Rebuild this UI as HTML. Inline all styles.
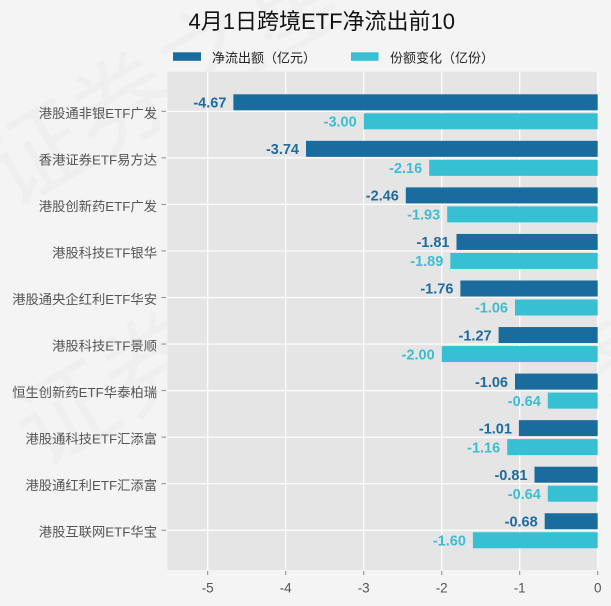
<!DOCTYPE html>
<html>
<head>
<meta charset="utf-8">
<style>
html,body{margin:0;padding:0;background:#f4f4f4;}
svg{display:block;}
text{font-family:"Liberation Sans","Noto Sans CJK SC",sans-serif;}
</style>
</head>
<body>
<svg width="611" height="606" viewBox="0 0 611 606" xmlns="http://www.w3.org/2000/svg">
<rect x="0" y="0" width="611" height="606" fill="#f4f4f4"/>
<!-- faint watermark -->
<g font-size="100" fill="#000000" fill-opacity="0.02" font-family="Noto Sans CJK SC, sans-serif">
<text x="10" y="210" transform="rotate(-30 10 210)">证券之星</text>
<text x="40" y="470" transform="rotate(-30 40 470)">证券之星</text>
<text x="480" y="470" transform="rotate(-30 480 470)">证券</text>
</g>
<!-- panel -->
<rect x="167.5" y="71.7" width="430.2" height="498.3" fill="#e5e5e5"/>
<g stroke="#ffffff" stroke-width="1.2">
<line x1="207.7" y1="71.7" x2="207.7" y2="570"/>
<line x1="285.7" y1="71.7" x2="285.7" y2="570"/>
<line x1="363.7" y1="71.7" x2="363.7" y2="570"/>
<line x1="441.7" y1="71.7" x2="441.7" y2="570"/>
<line x1="519.7" y1="71.7" x2="519.7" y2="570"/>
<line x1="597.7" y1="71.7" x2="597.7" y2="570"/>
<line x1="167.5" y1="111.3" x2="597.7" y2="111.3"/>
<line x1="167.5" y1="157.85" x2="597.7" y2="157.85"/>
<line x1="167.5" y1="204.4" x2="597.7" y2="204.4"/>
<line x1="167.5" y1="250.95" x2="597.7" y2="250.95"/>
<line x1="167.5" y1="297.5" x2="597.7" y2="297.5"/>
<line x1="167.5" y1="344.05" x2="597.7" y2="344.05"/>
<line x1="167.5" y1="390.6" x2="597.7" y2="390.6"/>
<line x1="167.5" y1="437.15" x2="597.7" y2="437.15"/>
<line x1="167.5" y1="483.7" x2="597.7" y2="483.7"/>
<line x1="167.5" y1="530.25" x2="597.7" y2="530.25"/>
</g>

<g fill="#196c9d">
<rect x="233.4" y="94.3" width="364.3" height="16"/>
<rect x="306.0" y="140.85" width="291.7" height="16"/>
<rect x="405.8" y="187.4" width="191.9" height="16"/>
<rect x="456.5" y="233.95" width="141.2" height="16"/>
<rect x="460.4" y="280.5" width="137.3" height="16"/>
<rect x="498.6" y="327.05" width="99.1" height="16"/>
<rect x="515.0" y="373.6" width="82.7" height="16"/>
<rect x="518.9" y="420.15" width="78.8" height="16"/>
<rect x="534.5" y="466.7" width="63.2" height="16"/>
<rect x="544.7" y="513.25" width="53.0" height="16"/>
</g>
<g fill="#37bfd3">
<rect x="363.7" y="113.3" width="234.0" height="16"/>
<rect x="429.2" y="159.85" width="168.5" height="16"/>
<rect x="447.2" y="206.4" width="150.5" height="16"/>
<rect x="450.3" y="252.95" width="147.4" height="16"/>
<rect x="515.0" y="299.5" width="82.7" height="16"/>
<rect x="441.7" y="346.05" width="156.0" height="16"/>
<rect x="547.8" y="392.6" width="49.9" height="16"/>
<rect x="507.2" y="439.15" width="90.5" height="16"/>
<rect x="547.8" y="485.7" width="49.9" height="16"/>
<rect x="472.9" y="532.25" width="124.8" height="16"/>
</g>

<g font-size="14.5" font-weight="bold" text-anchor="end" fill="#1f6b9b">
<text x="226.4" y="107.5">-4.67</text>
<text x="299.0" y="154.05">-3.74</text>
<text x="398.8" y="200.6">-2.46</text>
<text x="449.5" y="247.15">-1.81</text>
<text x="453.4" y="293.7">-1.76</text>
<text x="491.6" y="340.25">-1.27</text>
<text x="508.0" y="386.8">-1.06</text>
<text x="511.9" y="433.35">-1.01</text>
<text x="527.5" y="479.9">-0.81</text>
<text x="537.7" y="526.45">-0.68</text>
</g>
<g font-size="14.5" font-weight="bold" text-anchor="end" fill="#3dbdd2">
<text x="356.7" y="126.5">-3.00</text>
<text x="422.2" y="173.05">-2.16</text>
<text x="440.2" y="219.6">-1.93</text>
<text x="443.3" y="266.15">-1.89</text>
<text x="508.0" y="312.7">-1.06</text>
<text x="434.7" y="359.25">-2.00</text>
<text x="540.8" y="405.8">-0.64</text>
<text x="500.2" y="452.35">-1.16</text>
<text x="540.8" y="498.9">-0.64</text>
<text x="465.9" y="545.45">-1.60</text>
</g>

<g stroke="#8a8a8a" stroke-width="1">
<line x1="161.5" y1="111.3" x2="166" y2="111.3"/>
<line x1="161.5" y1="157.85" x2="166" y2="157.85"/>
<line x1="161.5" y1="204.4" x2="166" y2="204.4"/>
<line x1="161.5" y1="250.95" x2="166" y2="250.95"/>
<line x1="161.5" y1="297.5" x2="166" y2="297.5"/>
<line x1="161.5" y1="344.05" x2="166" y2="344.05"/>
<line x1="161.5" y1="390.6" x2="166" y2="390.6"/>
<line x1="161.5" y1="437.15" x2="166" y2="437.15"/>
<line x1="161.5" y1="483.7" x2="166" y2="483.7"/>
<line x1="161.5" y1="530.25" x2="166" y2="530.25"/>
<line x1="207.7" y1="571" x2="207.7" y2="575"/>
<line x1="285.7" y1="571" x2="285.7" y2="575"/>
<line x1="363.7" y1="571" x2="363.7" y2="575"/>
<line x1="441.7" y1="571" x2="441.7" y2="575"/>
<line x1="519.7" y1="571" x2="519.7" y2="575"/>
<line x1="597.7" y1="571" x2="597.7" y2="575"/>
</g>
<g font-size="13.3" text-anchor="end" fill="#555555">
<text x="157" y="118">港股通非银ETF广发</text>
<text x="157" y="164.5">香港证券ETF易方达</text>
<text x="157" y="211">港股创新药ETF广发</text>
<text x="157" y="257.5">港股科技ETF银华</text>
<text x="157" y="304">港股通央企红利ETF华安</text>
<text x="157" y="350.5">港股科技ETF景顺</text>
<text x="157" y="397">恒生创新药ETF华泰柏瑞</text>
<text x="157" y="443.5">港股通科技ETF汇添富</text>
<text x="157" y="490">港股通红利ETF汇添富</text>
<text x="157" y="536.5">港股互联网ETF华宝</text>
</g>
<g font-size="13.5" text-anchor="middle" fill="#555555">
<text x="207.7" y="592.5">-5</text>
<text x="285.7" y="592.5">-4</text>
<text x="363.7" y="592.5">-3</text>
<text x="441.7" y="592.5">-2</text>
<text x="519.7" y="592.5">-1</text>
<text x="597.7" y="592.5">0</text>
</g>

<rect x="173" y="52.3" width="28" height="8.5" fill="#196c9d"/>
<text x="212" y="62.5" font-size="13" fill="#222222">净流出额（亿元）</text>
<rect x="351" y="52.3" width="27.5" height="8.5" fill="#37bfd3"/>
<text x="390" y="62.5" font-size="13" fill="#222222">份额变化（亿份）</text>

<text x="188.5" y="29" font-size="22" fill="#111111">4月1日跨境ETF净流出前10</text>
</svg>
</body>
</html>
